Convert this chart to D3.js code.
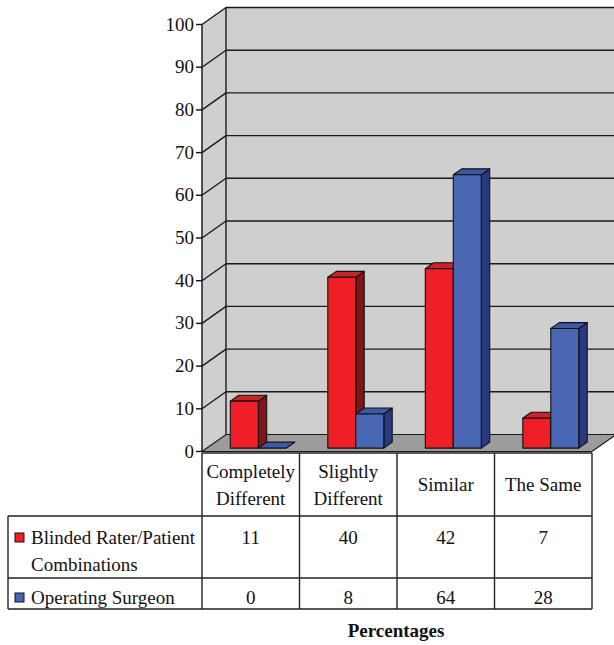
<!DOCTYPE html>
<html>
<head>
<meta charset="utf-8">
<script src="https://cdn.jsdelivr.net/npm/d3@7"></script>
<style>
  body { margin: 0; background: #fff; }
</style>
</head>
<body>
<svg id="chart" width="614" height="645"></svg>
<script>
// categories + series
var categories = ['Completely Different', 'Slightly Different', 'Similar', 'The Same'];
var headerLines = [['Completely', 'Different'], ['Slightly', 'Different'], ['Similar'], ['The Same']];
var seriesNames = ['Blinded Rater/Patient Combinations', 'Operating Surgeon'];
var seriesLabelLines = [['Blinded Rater/Patient', 'Combinations'], ['Operating Surgeon']];
var blindedRater = [11, 40, 42, 7];
var operatingSurgeon = [0, 8, 64, 28];
var yTicks = [0, 10, 20, 30, 40, 50, 60, 70, 80, 90, 100];
var axisTitle = 'Percentages';

var Chart = (function(d3) {
    var svg = d3.select('#chart'),
        seriesValues = [blindedRater, operatingSurgeon],
        colors = [
            { front: '#ee1f26', side: '#801518', top: '#c92428' },
            { front: '#4a67b3', side: '#263b80', top: '#3d59a6' }
        ],
        depth = { x: 24, y: -17 },   // 3d depth vector of the box
        barFront = 0.2, barBack = 0.55; // bar position inside the depth

    var x = d3.scaleBand().domain(categories).range([202, 592]);
    var xs = d3.scaleBand().domain(seriesNames).range([23.5, 79.5]);
    var y = d3.scaleLinear().domain([0, 100]).range([451.5, 24.5]);

    var x0 = x.range()[0], x1 = x.range()[1];

    function pts(arr) {
        return arr.map(function(p) { return p[0] + ',' + p[1]; }).join(' ');
    }

    function label(sel) {
        return sel.style('font-family', '"Liberation Serif"')
            .style('font-size', '19px')
            .style('fill', '#111');
    }

    // side wall
    svg.append('polygon')
        .attr('points', pts([[x0, y(0)], [x0, y(100)], [x0 + depth.x, y(100) + depth.y], [x0 + depth.x, y(0) + depth.y]]))
        .style('fill', '#cfcfcf');

    // back wall
    svg.append('rect')
        .attr('x', x0 + depth.x)
        .attr('y', y(100) + depth.y)
        .attr('width', x1 - x0 + 10)
        .attr('height', y(0) - y(100))
        .style('fill', '#cfcfcf');

    // gridlines
    var grid = svg.append('g').attr('class', 'grid');
    yTicks.filter(function(d) { return d > 0; }).forEach(function(d) {
        grid.append('line')
            .attr('x1', x0).attr('y1', y(d))
            .attr('x2', x0 + depth.x).attr('y2', y(d) + depth.y);
        grid.append('line')
            .attr('x1', x0 + depth.x).attr('y1', y(d) + depth.y)
            .attr('x2', 620).attr('y2', y(d) + depth.y);
    });
    grid.append('line')
        .attr('x1', x0 + depth.x).attr('y1', y(100) + depth.y)
        .attr('x2', x0 + depth.x).attr('y2', y(0) + depth.y);
    grid.selectAll('line').style('stroke', '#1a1a1a').style('stroke-width', 1.4);

    // floor
    svg.append('polygon')
        .attr('points', pts([[x0, y(0)], [x0 + depth.x, y(0) + depth.y], [x1 + depth.x, y(0) + depth.y], [x1, y(0)]]))
        .style('fill', '#9c9c9c')
        .style('stroke', '#1a1a1a')
        .style('stroke-width', 1.2);

    // bars
    var fx = depth.x * barFront, fy = depth.y * barFront,
        dx = depth.x * (barBack - barFront), dy = depth.y * (barBack - barFront);

    categories.forEach(function(cat, i) {
        seriesNames.forEach(function(s, j) {
            var v = seriesValues[j][i],
                c = colors[j],
                bx = x(cat) + xs(s) + fx,
                bw = xs.bandwidth(),
                by0 = y(0) + fy,
                by1 = y(v) + fy;
            var g = svg.append('g').attr('class', 'bar');
            g.append('polygon')
                .attr('points', pts([[bx + bw, by0], [bx + bw, by1], [bx + bw + dx, by1 + dy], [bx + bw + dx, by0 + dy]]))
                .style('fill', c.side);
            g.append('polygon')
                .attr('points', pts([[bx, by1], [bx + dx, by1 + dy], [bx + bw + dx, by1 + dy], [bx + bw, by1]]))
                .style('fill', c.top);
            if (v > 0) {
                g.append('rect')
                    .attr('x', bx).attr('y', by1)
                    .attr('width', bw).attr('height', by0 - by1)
                    .style('fill', c.front);
            }
            g.selectAll('polygon, rect')
                .style('stroke', '#111')
                .style('stroke-width', 1.1)
                .style('stroke-linejoin', 'round');
        });
    });

    // y axis
    var axis = svg.append('g').attr('class', 'y-axis');
    axis.append('line')
        .attr('x1', x0).attr('x2', x0)
        .attr('y1', y(100)).attr('y2', y(0));
    axis.selectAll('.tick')
        .data(yTicks)
        .enter().append('line')
        .attr('class', 'tick')
        .attr('x1', x0 - 6).attr('x2', x0)
        .attr('y1', function(d) { return y(d); })
        .attr('y2', function(d) { return y(d); });
    axis.selectAll('line').style('stroke', '#111').style('stroke-width', 1.4);
    axis.selectAll('text')
        .data(yTicks)
        .enter().append('text')
        .attr('x', x0 - 8)
        .attr('y', function(d) { return y(d) + 6; })
        .attr('text-anchor', 'end')
        .call(label)
        .text(function(d) { return d; });

    // data table
    var table = svg.append('g').attr('class', 'data-table'),
        rowTops = [453, 516, 578, 609],
        tableLeft = 8;

    table.append('line').attr('x1', x0).attr('x2', x1).attr('y1', rowTops[0]).attr('y2', rowTops[0]);
    [rowTops[1], rowTops[2], rowTops[3]].forEach(function(ry) {
        table.append('line').attr('x1', tableLeft).attr('x2', x1).attr('y1', ry).attr('y2', ry);
    });
    table.append('line').attr('x1', tableLeft).attr('x2', tableLeft).attr('y1', rowTops[1]).attr('y2', rowTops[3]);
    categories.concat([null]).forEach(function(cat) {
        var cx = cat ? x(cat) : x1;
        table.append('line').attr('x1', cx).attr('x2', cx).attr('y1', rowTops[0]).attr('y2', rowTops[3]);
    });
    table.selectAll('line').style('stroke', '#222').style('stroke-width', 1.4);

    // header cells
    categories.forEach(function(cat, i) {
        var lines = headerLines[i],
            cx = x(cat) + x.bandwidth() / 2,
            base = lines.length === 2 ? 478 : 491;
        lines.forEach(function(t, k) {
            table.append('text')
                .attr('x', cx)
                .attr('y', base + k * 27)
                .attr('text-anchor', 'middle')
                .call(label)
                .text(t);
        });
    });

    // series rows
    var rowBase = [544, 604];
    seriesNames.forEach(function(s, j) {
        table.append('rect')
            .attr('x', 15).attr('y', rowBase[j] - 11)
            .attr('width', 9).attr('height', 9)
            .style('fill', colors[j].front)
            .style('stroke', '#111')
            .style('stroke-width', 1);
        seriesLabelLines[j].forEach(function(t, k) {
            table.append('text')
                .attr('x', 31)
                .attr('y', rowBase[j] + k * 27)
                .call(label)
                .text(t);
        });
        categories.forEach(function(cat, i) {
            table.append('text')
                .attr('x', x(cat) + x.bandwidth() / 2)
                .attr('y', rowBase[j])
                .attr('text-anchor', 'middle')
                .call(label)
                .text(seriesValues[j][i]);
        });
    });

    // axis title
    svg.append('text')
        .attr('x', 396)
        .attr('y', 637)
        .attr('text-anchor', 'middle')
        .call(label)
        .style('font-weight', 'bold')
        .text(axisTitle);

    return { svg: svg };
})(d3);
</script>
</body>
</html>
